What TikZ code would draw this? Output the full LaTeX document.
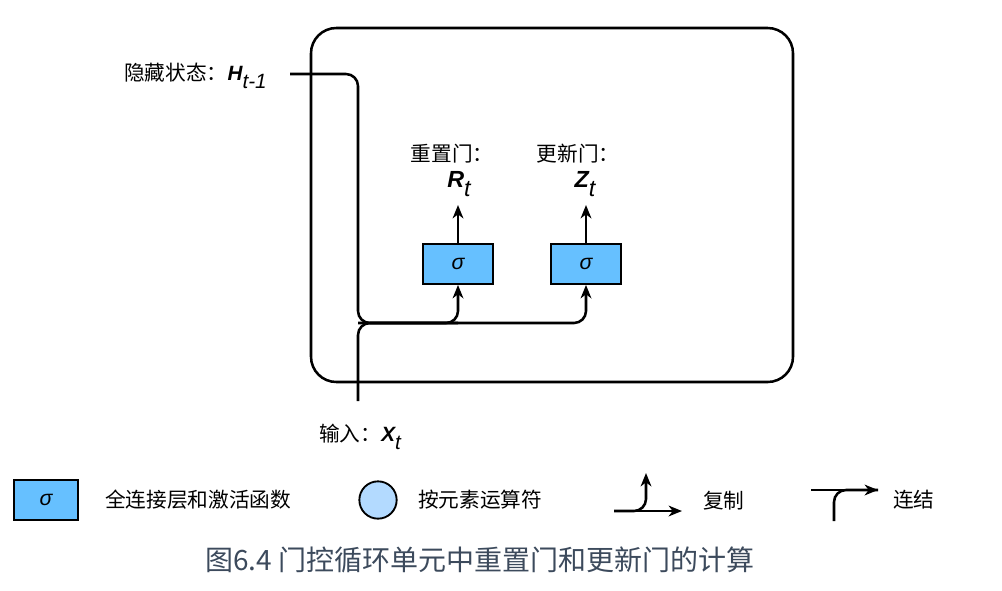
\documentclass[tikz,border=0pt]{standalone}
\usepackage{fontspec}
\newfontfamily\cjk{Noto Sans CJK SC}
\newfontfamily\arial{Liberation Sans}
\usepackage{tikz}
\usetikzlibrary{arrows, arrows.meta}
\definecolor{gatefill}{HTML}{66C0FF}
\definecolor{opfill}{HTML}{B3DAFF}
\definecolor{captext}{HTML}{3C4A5C}
\newcommand{\vsub}[2]{{\arial\bfseries\itshape #1}{\arial\itshape\raisebox{-0.42em}{#2}}}

\tikzset{
  gate/.style={draw, line width=1.4pt, fill=gatefill, minimum width=52pt, minimum height=30pt, inner sep=0pt, font=\arial\itshape\fontsize{16}{18}\selectfont},
  lbl/.style={inner sep=0pt, font=\cjk\fontsize{15.5}{18}\selectfont},
  vlbl/.style={inner sep=0pt, font=\fontsize{17.5}{19}\selectfont},
  flow/.style={line width=1.9pt, rounded corners=9pt},
  arrowtip/.style={-{Stealth[length=10pt, width=8pt, inset=3pt]}},
}

\begin{document}
\begin{tikzpicture}[x=0.75pt,y=-0.75pt]
\useasboundingbox (0,0) rectangle (1002,590);
\draw[line width=1.9pt, rounded corners=19pt] (311,28) rectangle (793,382);

% gates
\node[gate] (rg) at (458,264) {σ}; \node[gate] (zg) at (586,264) {σ};
\node[lbl] (rname) at (452,154) {重置门：}; \node[vlbl] (rvar) at (459,184) {\vsub{R}{t}};
\node[lbl] (zname) at (578,154) {更新门：}; \node[vlbl] (zvar) at (585,184) {\vsub{Z}{t}};
\coordinate (rout) at (458,205); \coordinate (zout) at (586,205);
\draw[flow, arrowtip] (rg.north) -- (rout); \draw[flow, arrowtip] (zg.north) -- (zout);

% inputs
\node[lbl, anchor=base west] (hid) at (124,80) {隐藏状态：\vsub{H}{t-1}};
\node[lbl, anchor=base west] (inp) at (319,441) {输入：\vsub{X}{t}};
\coordinate (hin) at (290,74); \coordinate (split) at (358,323); \coordinate (xin) at (358,401);
\draw[flow, arrowtip] (hin) -| (split) -| (zg.south);
\draw[flow, arrowtip] (split) -| (rg.south);
\draw[flow] (xin) |- (rg.south |- split);

% legend
\node[gate, minimum width=48pt] (keyfc) at (46,500) {σ}; \node[lbl, anchor=west] (keyfctxt) at (105,500) {全连接层和激活函数};
\node[draw, circle, line width=1.4pt, fill=opfill, minimum size=28pt, inner sep=0pt] (keyop) at (378,500) {}; \node[lbl, anchor=west] (keyoptxt) at (418,500) {按元素运算符};
\coordinate (cpa) at (614,511); \coordinate (cpb) at (682,511); \coordinate (cpc) at (646,473);
\draw[flow, arrowtip] (cpa) -- (cpb); \draw[flow, arrowtip] (cpa) -| (cpc); \node[lbl, anchor=west] (cptxt) at (703,501) {复制};
\coordinate (ccl) at (811,490); \coordinate (ccr) at (878,490); \coordinate (ccb) at (834,521);
\draw[flow, arrowtip] (ccl) -- (ccr); \draw[flow] (ccb) |- (ccr); \node[lbl, anchor=west] (cctxt) at (893,500) {连结};

\node[inner sep=0pt, text=captext, font=\cjk\fontsize{21}{24}\selectfont] (cap) at (480,560) {图6.4 门控循环单元中重置门和更新门的计算};
\end{tikzpicture}
\end{document}
